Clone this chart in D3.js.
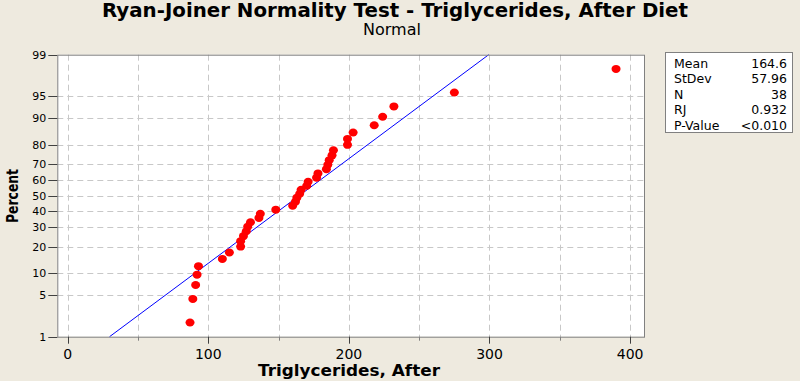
<!DOCTYPE html>
<html>
<head>
<meta charset="utf-8">
<script src="https://cdn.jsdelivr.net/npm/d3@7"></script>
<style>
  html, body { margin: 0; padding: 0; background: #EEEADF; }
  svg { display: block; font-family: Tahoma, "DejaVu Sans", sans-serif; }
</style>
</head>
<body>
<script>
(function(d3) {
  var triglycerides = [87, 89, 91, 92, 93, 110, 115, 123, 123, 125, 127, 128, 130, 136, 137,
    148, 160, 162, 163, 165, 166, 170, 171, 177, 178, 184, 185, 186, 188, 189,
    199, 199, 203, 218, 224, 232, 275, 390];
  var percentTicks = [1, 5, 10, 20, 30, 40, 50, 60, 70, 80, 90, 95, 99];
  var xTicks = [0, 100, 200, 300, 400];
  var xGrid = [0, 50, 100, 150, 200, 250, 300, 350, 400];
  var statLabels = ["Mean", "StDev", "N", "RJ", "P-Value"];
  var statValues = ["164.6", "57.96", "38", "0.932", "<0.010"];
  var mean = 164.6, stdev = 57.96;

  var width = 800, height = 381;
  var plot = { left: 57.3, right: 645, top: 54.7, bottom: 336.7 };

  // inverse normal cdf (Acklam)
  function qnorm(p) {
    var a = [-3.969683028665376e+01, 2.209460984245205e+02, -2.759285104469687e+02, 1.383577518672690e+02, -3.066479806614716e+01, 2.506628277459239e+00];
    var b = [-5.447609879822406e+01, 1.615858368580409e+02, -1.556989798598866e+02, 6.680131188771972e+01, -1.328068155288572e+01];
    var c = [-7.784894002430293e-03, -3.223964580411365e-01, -2.400758277161838e+00, -2.549732539343734e+00, 4.374664141464968e+00, 2.938163982698783e+00];
    var e = [7.784695709041462e-03, 3.224671290700398e-01, 2.445134137142996e+00, 3.754408661907416e+00];
    var pl = 0.02425, q, r;
    if (p < pl) {
      q = Math.sqrt(-2 * Math.log(p));
      return (((((c[0]*q+c[1])*q+c[2])*q+c[3])*q+c[4])*q+c[5]) / ((((e[0]*q+e[1])*q+e[2])*q+e[3])*q+1);
    } else if (p <= 1 - pl) {
      q = p - 0.5; r = q * q;
      return (((((a[0]*r+a[1])*r+a[2])*r+a[3])*r+a[4])*r+a[5])*q / (((((b[0]*r+b[1])*r+b[2])*r+b[3])*r+b[4])*r+1);
    } else {
      q = Math.sqrt(-2 * Math.log(1 - p));
      return -(((((c[0]*q+c[1])*q+c[2])*q+c[3])*q+c[4])*q+c[5]) / ((((e[0]*q+e[1])*q+e[2])*q+e[3])*q+1);
    }
  }

  var svg = d3.select("body").append("svg").attr("width", width).attr("height", height);

  var x = d3.scaleLinear().domain([-7.4, 410.6]).range([plot.left, plot.right]);
  var z = d3.scaleLinear().domain([qnorm(0.01), qnorm(0.99)]).range([plot.bottom, plot.top]);
  function yPct(p) { return z(qnorm(p / 100)); }

  // plot background
  svg.append("rect").attr("x", plot.left).attr("y", plot.top)
    .attr("width", plot.right - plot.left).attr("height", plot.bottom - plot.top)
    .attr("fill", "#ffffff");

  // grid
  var grid = svg.append("g").attr("stroke", "#c8c8c8").attr("stroke-width", 1).attr("stroke-dasharray", "6,4");
  grid.selectAll("line.h").data(percentTicks.slice(1, -1)).enter().append("line")
    .attr("x1", plot.left).attr("x2", plot.right)
    .attr("y1", function(d) { return Math.round(yPct(d)) + 0.5; })
    .attr("y2", function(d) { return Math.round(yPct(d)) + 0.5; });
  grid.selectAll("line.v").data(xGrid).enter().append("line")
    .attr("y1", plot.top).attr("y2", plot.bottom)
    .attr("x1", function(d) { return Math.round(x(d)) + 0.5; })
    .attr("x2", function(d) { return Math.round(x(d)) + 0.5; });

  // fitted line
  svg.append("line")
    .attr("x1", x(mean + stdev * qnorm(0.01))).attr("y1", yPct(1))
    .attr("x2", x(mean + stdev * qnorm(0.99))).attr("y2", yPct(99))
    .attr("stroke", "#0000ff").attr("stroke-width", 1);

  // points, median ranks
  var n = triglycerides.length;
  svg.selectAll("ellipse.pt").data(triglycerides).enter().append("ellipse")
    .attr("cx", function(d) { return x(d); })
    .attr("cy", function(d, i) { return yPct(100 * (i + 1 - 0.3) / (n + 0.4)); })
    .attr("rx", 4.5).attr("ry", 4)
    .attr("fill", "#ff0000");

  // frame
  svg.append("rect").attr("x", plot.left + 0.5).attr("y", plot.top + 0.5)
    .attr("width", plot.right - plot.left - 1).attr("height", plot.bottom - plot.top)
    .attr("fill", "none").attr("stroke", "#808080");

  // y axis
  var yAxis = svg.append("g");
  yAxis.selectAll("line").data(percentTicks).enter().append("line")
    .attr("x1", plot.left - 9).attr("x2", plot.left)
    .attr("y1", function(d) { return Math.round(yPct(d)) + 0.5; })
    .attr("y2", function(d) { return Math.round(yPct(d)) + 0.5; })
    .attr("stroke", "#404040");
  yAxis.selectAll("text").data(percentTicks).enter().append("text")
    .attr("x", plot.left - 11).attr("y", function(d) { return yPct(d); })
    .attr("dy", "0.35em").attr("text-anchor", "end")
    .attr("font-size", "11px").attr("fill", "#000")
    .text(function(d) { return d; });

  // x axis
  var xAxis = svg.append("g");
  xAxis.selectAll("line.major").data(xTicks).enter().append("line")
    .attr("x1", function(d) { return Math.round(x(d)) + 0.5; })
    .attr("x2", function(d) { return Math.round(x(d)) + 0.5; })
    .attr("y1", plot.bottom).attr("y2", plot.bottom + 7)
    .attr("stroke", "#404040");
  xAxis.selectAll("line.minor").data([50, 150, 250, 350]).enter().append("line")
    .attr("x1", function(d) { return Math.round(x(d)) + 0.5; })
    .attr("x2", function(d) { return Math.round(x(d)) + 0.5; })
    .attr("y1", plot.bottom).attr("y2", plot.bottom + 4)
    .attr("stroke", "#808080");
  xAxis.selectAll("text").data(xTicks).enter().append("text")
    .attr("x", function(d) { return x(d); }).attr("y", plot.bottom + 22)
    .attr("text-anchor", "middle").attr("font-size", "14px").attr("fill", "#000")
    .text(function(d) { return d; });

  // titles
  svg.append("text").attr("x", 395).attr("y", 17).attr("text-anchor", "middle")
    .attr("font-size", "19px").attr("font-weight", "bold")
    .attr("textLength", 586).attr("lengthAdjust", "spacingAndGlyphs")
    .text("Ryan-Joiner Normality Test - Triglycerides, After Diet");
  svg.append("text").attr("x", 392).attr("y", 35).attr("text-anchor", "middle")
    .attr("font-size", "16px").text("Normal");
  svg.append("text").attr("x", 349).attr("y", 376).attr("text-anchor", "middle")
    .attr("font-size", "16px").attr("font-weight", "bold")
    .attr("textLength", 182).attr("lengthAdjust", "spacingAndGlyphs")
    .text("Triglycerides, After");
  svg.append("text").attr("transform", "translate(18,196) rotate(-90)")
    .attr("text-anchor", "middle").attr("font-size", "16px").attr("font-weight", "bold")
    .attr("textLength", 54).attr("lengthAdjust", "spacingAndGlyphs")
    .text("Percent");

  // stats box
  var box = svg.append("g");
  box.append("rect").attr("x", 665.5).attr("y", 52.5).attr("width", 127).attr("height", 80)
    .attr("fill", "#ffffff").attr("stroke", "#808080");
  box.selectAll("text.lab").data(statLabels).enter().append("text")
    .attr("x", 674).attr("y", function(d, i) { return 67.5 + i * 15.5; })
    .attr("font-size", "12.5px").text(function(d) { return d; });
  box.selectAll("text.val").data(statValues).enter().append("text")
    .attr("x", 787).attr("y", function(d, i) { return 67.5 + i * 15.5; })
    .attr("text-anchor", "end").attr("font-size", "12.5px").text(function(d) { return d; });
})(d3);
</script>
</body>
</html>
